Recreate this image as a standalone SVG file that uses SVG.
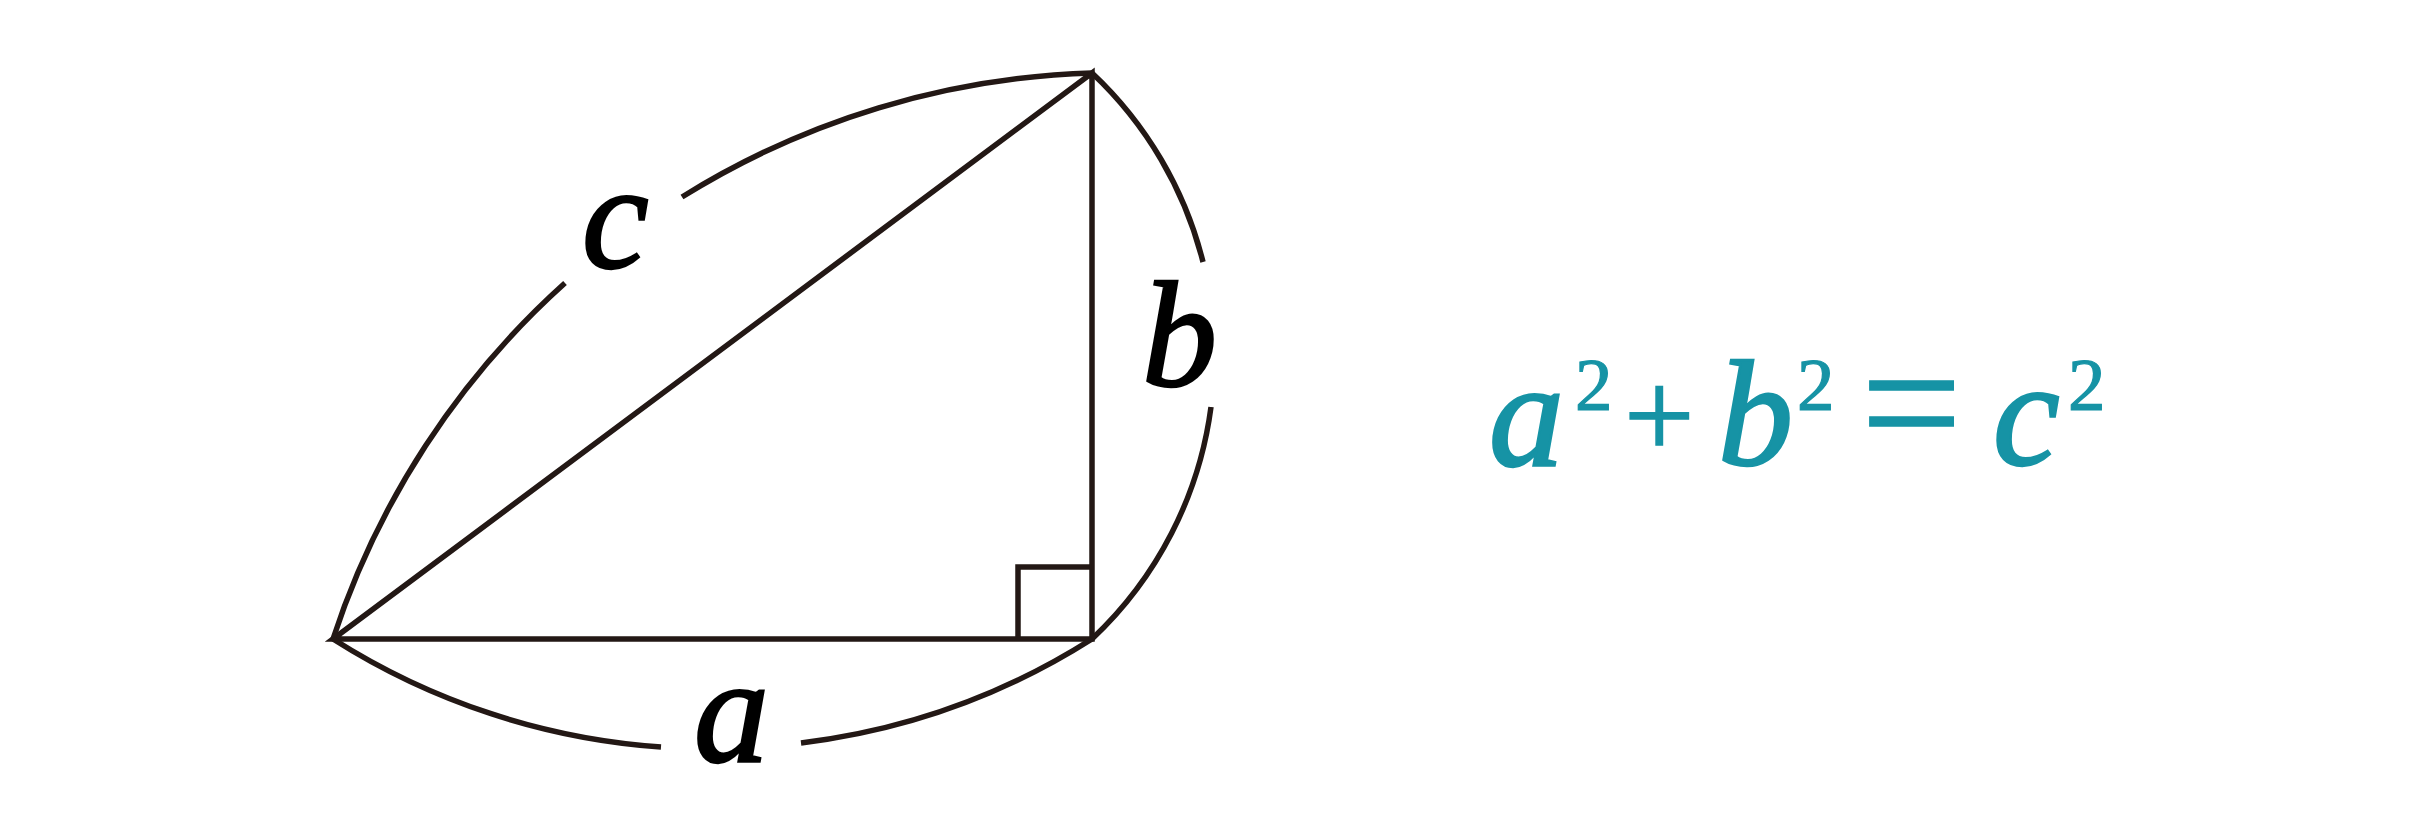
<svg xmlns="http://www.w3.org/2000/svg" width="2436" height="836" viewBox="0 0 2436 836">
<style>
.ln{fill:none;stroke:#231815;stroke-width:5.5;stroke-linejoin:miter}
.lbl{font-family:"Liberation Serif","Times New Roman",serif;font-style:italic;font-size:150px;fill:#000;stroke:#000;stroke-width:2.6}
.eq{font-family:"Liberation Serif","Times New Roman",serif;fill:#1693a5;stroke:#1693a5}
.it{font-style:italic;font-size:150px;stroke-width:2.6}
.sup{font-size:75px;stroke-width:1.2}
.op{stroke-width:1.6}
</style>
<rect width="2436" height="836" fill="#fff"/>
<g id="triangle">
<path class="ln" d="M333,639 L1092,73 L1092,639 Z"/>
<path class="ln" d="M1018,639 V567 H1092"/>
</g>
<g id="connectors">
<path id="arc-c-1" class="ln" d="M333,639 A821,821 0 0 1 565,283"/>
<path id="arc-c-2" class="ln" d="M682,197 A821,821 0 0 1 1092,73"/>
<path id="arc-b-1" class="ln" d="M1092,73 A388,388 0 0 1 1203,262"/>
<path id="arc-b-2" class="ln" d="M1211,407 A388,388 0 0 1 1092,639"/>
<path id="arc-a-1" class="ln" d="M333,639 A702,702 0 0 0 661,747"/>
<path id="arc-a-2" class="ln" d="M801,743 A702,702 0 0 0 1092,639"/>
</g>
<g id="label-a"><text class="lbl" x="694" y="761">a</text></g>
<g id="label-b"><text class="lbl" x="1142" y="386">b</text></g>
<g id="label-c"><text class="lbl" x="582" y="268">c</text></g>
<g id="equation" class="eq">
<text class="it" x="1489" y="465">a</text>
<text class="sup" x="1575" y="410">2</text>
<text class="op" font-size="125" x="1624" y="457">+</text>
<text class="it" x="1718" y="465">b</text>
<text class="sup" x="1797" y="410">2</text>
<text class="op" font-size="179" x="1861" y="463">=</text>
<text class="it" x="1993" y="465">c</text>
<text class="sup" x="2068" y="410">2</text>
</g>
</svg>
